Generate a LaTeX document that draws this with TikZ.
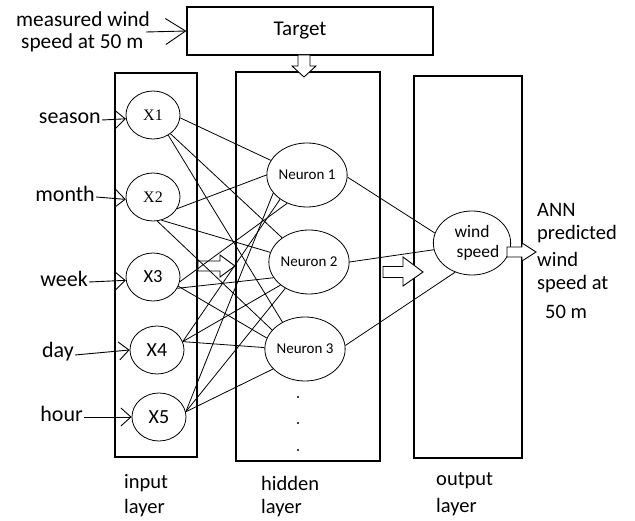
\documentclass[tikz,border=0pt]{standalone}
\usepackage{fontspec}
\setmainfont{Carlito}
\newfontfamily\serifx{Liberation Serif}
\usetikzlibrary{shapes.geometric,arrows.meta}
\tikzset{
  layerbox/.style={draw,line width=1.2pt},
  unit/.style={draw,ellipse,line width=0.8pt,inner sep=0pt},
  inunit/.style={unit,minimum width=54pt,minimum height=48pt},
  hidunit/.style={unit,minimum width=74pt,minimum height=64pt,font=\fontsize{15}{17}\selectfont},
  link/.style={line width=0.8pt},
  inarrow/.style={line width=0.9pt,-{Straight Barb[length=10pt,width=18pt]}},
  lbl/.style={inner sep=0pt,font=\fontsize{20.5}{24}\selectfont},
  inlbl/.style={lbl,anchor=east,font=\fontsize{22}{24}\selectfont},
  hollow/.style={draw,line width=0.9pt,fill=white}
}
\begin{document}
\begin{tikzpicture}[x=1pt,y=-1pt]
\useasboundingbox (0,0) rectangle (635,521);

% target block and its input
\node[layerbox,minimum width=246pt,minimum height=48pt,inner sep=0pt,font=\fontsize{21}{24}\selectfont] (target) at (310,31) {Target\hspace*{20pt}};
\node[lbl,anchor=west,font=\fontsize{21.3}{24}\selectfont] (meas1) at (16,19) {measured wind};
\node[lbl,anchor=west,font=\fontsize{21.3}{24}\selectfont] (meas2) at (21,43) {speed at 50 m};
\coordinate (measend) at (146,32);
\draw[line width=0.9pt,-{Straight Barb[length=20pt,width=26pt]}] (measend) -- (target.west);

% layer frames
\node[layerbox,minimum width=82pt,minimum height=384pt,inner sep=0pt] (inbox) at (156,265) {};
\node[layerbox,minimum width=144pt,minimum height=389pt,inner sep=0pt] (hidbox) at (308,266.5) {};
\node[layerbox,minimum width=108pt,minimum height=382pt,inner sep=0pt] (outbox) at (468,267) {};

% target feedback arrow
\draw[hollow] (298,55) -- (310,55) -- (310,66) -- (316,66) -- (304,77) -- (292,66) -- (298,66) -- cycle;

% input units
\node[inunit,font=\serifx\fontsize{16}{18}\selectfont] (X1) at (153,115) {X1};
\node[inunit,font=\serifx\fontsize{16}{18}\selectfont] (X2) at (153,197) {X2};
\node[inunit,font=\fontsize{18.5}{20}\selectfont] (X3) at (153,277) {X3};
\node[inunit,font=\fontsize{20}{22}\selectfont] (X4) at (157,350) {X4};
\node[inunit,font=\fontsize{20}{22}\selectfont] (X5) at (159,417) {X5};

% hidden units
\node[hidunit] (N1) at (307,175) {Neuron 1};
\node[hidunit] (N2) at (309,262) {Neuron 2};
\node[hidunit] (N3) at (305,349) {Neuron 3};
\fill (298,397) circle (1.2pt) (298,423) circle (1.2pt) (298,450) circle (1.2pt);

% output unit
\node[unit,minimum width=74pt,minimum height=64pt,align=center,font=\fontsize{17.5}{21}\selectfont] (out) at (472,243) {wind\\[-1pt]\hspace*{12pt}speed};

% input labels
\node[inlbl] (season) at (101,118) {season};
\node[inlbl] (month) at (95,194) {month};
\node[inlbl] (week) at (88,279) {week};
\node[inlbl] (day) at (74,352) {day};
\node[inlbl] (hour) at (83,414) {hour};
\draw[inarrow] (season.east) ++(1,2) -- (X1.188);
\draw[inarrow] (month.east) ++(1,3) -- (X2.185);
\draw[inarrow] (week.east) ++(1,3) -- (X3.187);
\draw[inarrow] (day.east) ++(1,3) -- (X4.180);
\draw[inarrow] (hour.east) ++(1,3) -- (X5.180);

% input -> hidden connections
\draw[link] (X1.-6) -- (N1.158);
\draw[link] (X1.-47) -- (N2.138);
\draw[link] (X1.-53) -- (N3.130);
\draw[link] (X2.-26) -- (N1.180);
\draw[link] (X2.-70) -- (N2.166);
\draw[link] (X2.-80) -- (N3.150);
\draw[link] (X3.-10) -- (N1.235);
\draw[link] (X3.-25) -- (N2.204);
\draw[link] (X3.-20) -- (N3.164);
\draw[link] (X4.18) -- (N1.222);
\draw[link] (X4.18) -- (N2.219);
\draw[link] (X4.18) -- (N3.178);
\draw[link] (X5.11) -- (N1.208);
\draw[link] (X5.11) -- (N2.228);
\draw[link] (X5.11) -- (N3.212);

% small block arrow between input and hidden layers
\draw[hollow,fill=none] (198,261) -- (220,261) -- (220,255) -- (235,266) -- (220,277) -- (220,271) -- (198,271) -- cycle;

% hidden -> output connections
\draw[link] (N1.-3) -- (out.165);
\draw[link] (N2.0) -- (out.190);
\draw[link] (N3.5) -- (out.240);

% block arrows towards and out of the output unit
\draw[hollow] (383,266.5) -- (403,266.5) -- (403,257) -- (423,272) -- (403,286) -- (403,277.5) -- (383,277.5) -- cycle;
\draw[hollow] (507,247) -- (522,247) -- (522,243) -- (536,252) -- (522,261) -- (522,257) -- (507,257) -- cycle;

% output description
\node[lbl,anchor=west] (ann1) at (537,210) {ANN};
\node[lbl,anchor=west] (ann2) at (537,234) {predicted};
\node[lbl,anchor=west] (ann3) at (537,259) {wind};
\node[lbl,anchor=west] (ann4) at (537,284) {speed at};
\node[lbl,anchor=west] (ann5) at (545,312) {50 m};

% layer captions
\node[lbl,anchor=west] (cap1a) at (124,483) {input};
\node[lbl,anchor=west] (cap1b) at (124,508) {layer};
\node[lbl,anchor=west] (cap2a) at (261,483) {hidden};
\node[lbl,anchor=west] (cap2b) at (261,508) {layer};
\node[lbl,anchor=west] (cap3a) at (436,481) {output};
\node[lbl,anchor=west] (cap3b) at (436,507) {layer};
\end{tikzpicture}
\end{document}
